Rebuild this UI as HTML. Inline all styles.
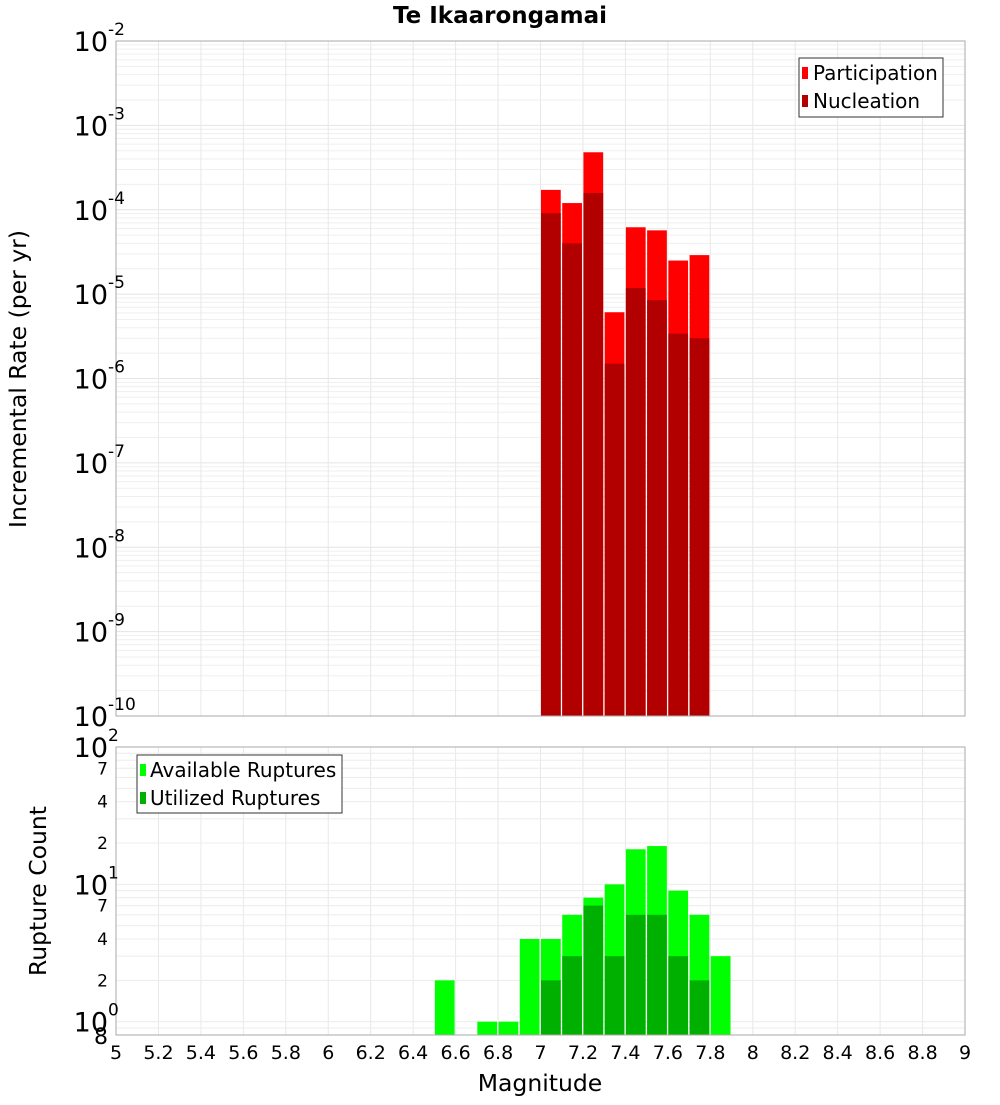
<!DOCTYPE html>
<html><head><meta charset="utf-8"><style>
html,body{margin:0;padding:0;background:#fff;}
svg text{font-family:"DejaVu Sans","Liberation Sans",sans-serif;}
</style></head><body>
<svg id="c" width="1000" height="1100" xmlns="http://www.w3.org/2000/svg">
<text x="500" y="23" text-anchor="middle" font-size="23" font-weight="bold">Te Ikaarongamai</text>
<g id="topPlot"></g>
<g id="botPlot"></g>
<text x="540" y="1091" text-anchor="middle" font-size="23.5">Magnitude</text>
<text transform="translate(26,379) rotate(-90)" text-anchor="middle" font-size="23.5">Incremental Rate (per yr)</text>
<text transform="translate(46,891) rotate(-90)" text-anchor="middle" font-size="23.5">Rupture Count</text>
<g id="legends">
<g>
<rect x="799" y="58" width="144" height="59" fill="#fff" stroke="#333" stroke-width="1"/>
<rect x="802" y="67" width="6" height="12" fill="#ff0000"/>
<text x="813" y="80" font-size="20">Participation</text>
<rect x="802" y="95" width="6" height="12" fill="#b20000"/>
<text x="813" y="108" font-size="20">Nucleation</text>
</g>
<g>
<rect x="137" y="755" width="205" height="58" fill="#fff" stroke="#333" stroke-width="1"/>
<rect x="140" y="764" width="6" height="12" fill="#00ff00"/>
<text x="150" y="777" font-size="20">Available Ruptures</text>
<rect x="140" y="792" width="6" height="12" fill="#00b000"/>
<text x="150" y="805" font-size="20">Utilized Ruptures</text>
</g>
</g>
</svg>
<script>
const mags=[7.05,7.15,7.25,7.35,7.45,7.55,7.65,7.75];
const participation=[1.72e-4,1.2e-4,4.8e-4,6.1e-6,6.2e-5,5.7e-5,2.5e-5,2.9e-5];
const nucleation=[9.1e-5,4.0e-5,1.58e-4,1.5e-6,1.18e-5,8.5e-6,3.4e-6,3.0e-6];
const countMags=[6.55,6.75,6.85,6.95,7.05,7.15,7.25,7.35,7.45,7.55,7.65,7.75,7.85];
const available=[2,1,1,4,4,6,8,10,18,19,9,6,3];
const utilized=[0,0,0,0,2,3,7,3,6,6,3,2,0];
const xTicks=[5,5.2,5.4,5.6,5.8,6,6.2,6.4,6.6,6.8,7,7.2,7.4,7.6,7.8,8,8.2,8.4,8.6,8.8,9];
const topExps=[-2,-3,-4,-5,-6,-7,-8,-9,-10];
const botMinor=[2,4,7,20,40,70];

const NS="http://www.w3.org/2000/svg";
const L=116,R=965;
const xs=m=>L+(m-5)/4*(R-L);
const T1=41,B1=716;
const yTop=v=>T1+(-2-Math.log10(v))/8*(B1-T1);
const T2=747,B2=1035;
const lb=Math.log10(0.8),lt=2;
const yBot=v=>T2+(lt-Math.log10(v))/(lt-lb)*(B2-T2);
function el(p,t,a){const e=document.createElementNS(NS,t);for(const k in a)e.setAttribute(k,a[k]);p.appendChild(e);return e;}
const gTop=document.getElementById('topPlot'),gBot=document.getElementById('botPlot'),svg=document.getElementById('c');

for(let e=-10;e<-2;e++)for(let k=1;k<10;k++){const v=k*Math.pow(10,e);const yy=yTop(v);
 const g=el(gTop,'line',{x1:L,x2:R,y1:yy,y2:yy,stroke:k==1?'#e4e4e4':'#efefef','stroke-width':1});
 
 }
xTicks.forEach(t=>{const g=el(gTop,'line',{x1:xs(t),x2:xs(t),y1:T1,y2:B1,stroke:'#e8e8e8'});
 
 
 const g2=el(gBot,'line',{x1:xs(t),x2:xs(t),y1:T2,y2:B2,stroke:'#e8e8e8'});
 
 });
const bw=(R-L)/40;
mags.forEach((m,i)=>{
 const x0=xs(m-0.05);
 const p=el(gTop,'rect',{x:x0+0.5,y:yTop(participation[i]),width:bw-1.5,height:B1-yTop(participation[i]),fill:'#ff0000'});
 
 
 const n=el(gTop,'rect',{x:x0+0.5,y:yTop(nucleation[i]),width:bw-1.5,height:B1-yTop(nucleation[i]),fill:'#b20000'});
 
 
});
el(gTop,'rect',{x:L,y:T1,width:R-L,height:B1-T1,fill:'none',stroke:'#aaa'});
topExps.forEach(e=>{const yy=yTop(Math.pow(10,e));
 const t=el(svg,'text',{x:108,y:yy+10,'text-anchor':'end','font-size':27});
 
 
 t.textContent='10';
 const s=el(svg,'text',{x:108,y:yy-6,'font-size':17});s.textContent=String(e);
 
 
});
[0.8,0.9,1,2,3,4,5,6,7,8,9,10,20,30,40,50,60,70,80,90].forEach(v=>{const yy=yBot(v);
 const g=el(gBot,'line',{x1:L,x2:R,y1:yy,y2:yy,stroke:'#ececec'});
 
 });
countMags.forEach((m,i)=>{
 const x0=xs(m-0.05);
 const a=el(gBot,'rect',{x:x0+0.5,y:yBot(available[i]),width:bw-1.5,height:B2-yBot(available[i]),fill:'#00ff00'});
 
 
 if(utilized[i]>0){const u=el(gBot,'rect',{x:x0+0.5,y:yBot(utilized[i]),width:bw-1.5,height:B2-yBot(utilized[i]),fill:'#00b000'});
 
 }
});
el(gBot,'rect',{x:L,y:T2,width:R-L,height:B2-T2,fill:'none',stroke:'#aaa'});
[[100,'2'],[10,'1'],[1,'0']].forEach(([v,e])=>{const yy=yBot(v);
 const t=el(svg,'text',{x:108,y:yy+10,'text-anchor':'end','font-size':27});t.textContent='10';
 
 
 const s=el(svg,'text',{x:108,y:yy-6,'font-size':17});s.textContent=e;
 
 });
botMinor.forEach(v=>{const t=el(svg,'text',{x:108,y:yBot(v)+6,'text-anchor':'end','font-size':17});
 t.textContent=String(v>=10?v/10:v);
 
 });
{const t=el(svg,'text',{x:108,y:1044,'text-anchor':'end','font-size':22});t.textContent='8';
 
 }
xTicks.forEach(tk=>{const t=el(svg,'text',{x:xs(tk),y:1059,'text-anchor':'middle','font-size':19});
 t.textContent=String(Math.round(tk*10)/10);
 
 });
svg.appendChild(document.getElementById('legends'));
</script>
</body></html>
